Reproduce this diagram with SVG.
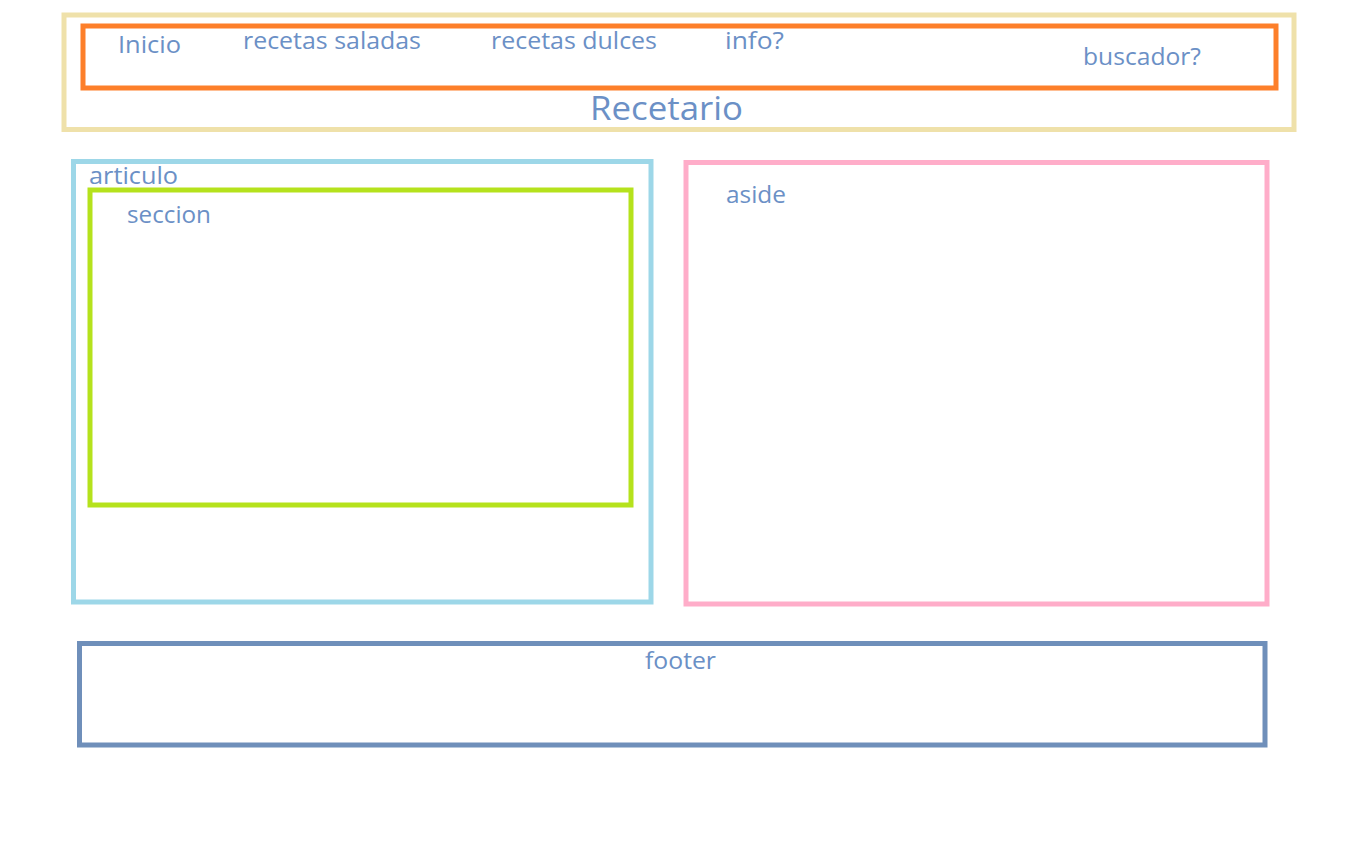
<svg xmlns="http://www.w3.org/2000/svg" width="1354" height="850" viewBox="0 0 1354 850">
<style>
.b{fill:none;stroke-width:5}
.t{font-family:"Open Sans","Noto Sans",sans-serif;font-size:24px;fill:#6b90c6}
</style>
<rect width="1354" height="850" fill="#ffffff"/>
<g id="header">
<rect class="b" x="64" y="15" width="1230" height="114.5" stroke="#efe1aa"/>
<text class="t" x="590" y="120" style="font-size:33px" textLength="153" lengthAdjust="spacingAndGlyphs">Recetario</text>
</g>
<g id="nav">
<rect class="b" x="83" y="26" width="1193" height="62" stroke="#fd7f2a"/>
<text class="t" x="118" y="53" textLength="63" lengthAdjust="spacingAndGlyphs">Inicio</text>
<text class="t" x="243" y="49" textLength="178" lengthAdjust="spacingAndGlyphs">recetas saladas</text>
<text class="t" x="491" y="49" textLength="166" lengthAdjust="spacingAndGlyphs">recetas dulces</text>
<text class="t" x="725" y="49" textLength="59" lengthAdjust="spacingAndGlyphs">info?</text>
<text class="t" x="1083" y="65" textLength="118" lengthAdjust="spacingAndGlyphs">buscador?</text>
</g>
<g id="articulo">
<rect class="b" x="73.5" y="161.5" width="577.5" height="440.5" stroke="#9dd7e8"/>
<text class="t" x="89" y="184" textLength="89" lengthAdjust="spacingAndGlyphs">articulo</text>
</g>
<g id="seccion">
<rect class="b" x="90" y="190" width="541" height="315" stroke="#b5e21c"/>
<text class="t" x="127" y="222.5" textLength="84" lengthAdjust="spacingAndGlyphs">seccion</text>
</g>
<g id="aside">
<rect class="b" x="686" y="162.5" width="581" height="441.5" stroke="#ffadc9"/>
<text class="t" x="726" y="203" textLength="60" lengthAdjust="spacingAndGlyphs">aside</text>
</g>
<g id="footer">
<rect class="b" x="79.5" y="643.5" width="1185.5" height="101.5" stroke="#6f8fba"/>
<text class="t" x="645" y="669" textLength="71" lengthAdjust="spacingAndGlyphs">footer</text>
</g>
<g id="connectors"/>
</svg>
